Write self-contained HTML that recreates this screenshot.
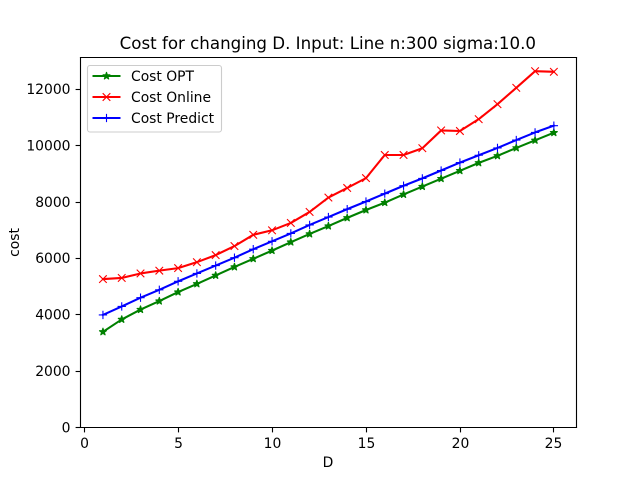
<!DOCTYPE html>
<html>
<head>
<meta charset="utf-8">
<title>Cost for changing D</title>
<style>
html,body{margin:0;padding:0;background:#fff;width:640px;height:480px;overflow:hidden}
svg{display:block}
text{font-family:"DejaVu Sans",sans-serif;fill:#000}
</style>
</head>
<body>
<svg id="chart" width="640" height="480" viewBox="0 0 640 480" xmlns="http://www.w3.org/2000/svg">
  <rect x="0" y="0" width="640" height="480" fill="#fff"/>
  <text x="327.8" y="49" font-size="16.67" text-anchor="middle">Cost for changing D. Input: Line n:300 sigma:10.0</text>
  <text x="328" y="467" font-size="13.89" text-anchor="middle">D</text>
  <text transform="translate(19 242.5) rotate(-90)" font-size="13.89" text-anchor="middle">cost</text>
  <g id="ticks"></g>
  <g id="series"></g>
  <g id="spines" stroke="#000" stroke-width="1.11" fill="none">
    <line x1="80.5" y1="57.5" x2="80.5" y2="427.5" stroke-linecap="square"/>
    <line x1="576.5" y1="57.5" x2="576.5" y2="427.5" stroke-linecap="square"/>
    <line x1="80.5" y1="57.5" x2="576.5" y2="57.5" stroke-linecap="square"/>
    <line x1="80.5" y1="427.5" x2="576.5" y2="427.5" stroke-linecap="square"/>
  </g>
  <g id="legend">
    <rect x="87.5" y="65.5" width="134" height="66.5" rx="2.5" fill="#fff" fill-opacity="0.8" stroke="#ccc" stroke-width="1.11"/>
  </g>
</svg>
<script>
var categories = [1,2,3,4,5,6,7,8,9,10,11,12,13,14,15,16,17,18,19,20,21,22,23,24,25];
var costOpt = [3380,3820,4170,4470,4790,5080,5380,5680,5970,6260,6560,6850,7130,7420,7700,7960,8250,8530,8810,9090,9370,9620,9900,10170,10440];
var costOnline = [5250,5290,5450,5550,5640,5850,6100,6420,6820,6980,7240,7630,8140,8480,8830,9650,9650,9890,10520,10500,10920,11450,12030,12620,12600];
var costPredict = [3980,4280,4590,4870,5170,5450,5730,6010,6310,6590,6870,7170,7450,7730,8000,8280,8560,8820,9100,9380,9640,9900,10180,10450,10690];
var xTicks = [0,5,10,15,20,25];
var yTicks = [0,2000,4000,6000,8000,10000,12000];

var NS = 'http://www.w3.org/2000/svg';
var plot = {left: 80, right: 576, top: 57.6, bottom: 427.2};
var xMin = -0.2, xMax = 26.2, yMin = 0, yMax = 13102;

function xScale(v) { return plot.left + (v - xMin) / (xMax - xMin) * (plot.right - plot.left); }
function yScale(v) { return plot.bottom - (v - yMin) / (yMax - yMin) * (plot.bottom - plot.top); }
function make(tag, attrs, parent) {
  var el = document.createElementNS(NS, tag);
  for (var k in attrs) el.setAttribute(k, attrs[k]);
  parent.appendChild(el);
  return el;
}
function snap(v) { return Math.round(v) + 0.5; }

function drawMarker(kind, cx, cy, color, parent) {
  var el;
  if (kind === 'star') {
    var r = 3.6;
    var pts = [];
    for (var i = 0; i < 10; i++) {
      var rad = i % 2 === 0 ? r : r * 0.381966;
      var a = -Math.PI / 2 + i * Math.PI / 5;
      pts.push((cx + rad * Math.cos(a)).toFixed(2) + ',' + (cy + rad * Math.sin(a)).toFixed(2));
    }
    el = make('polygon', {points: pts.join(' '), fill: color, stroke: color, 'stroke-width': 1.2, 'stroke-linejoin': 'round'}, parent);
  } else if (kind === 'x') {
    var rx = 3.8;
    el = make('path', {d: 'M' + (cx - rx) + ' ' + (cy - rx) + 'L' + (cx + rx) + ' ' + (cy + rx) + 'M' + (cx - rx) + ' ' + (cy + rx) + 'L' + (cx + rx) + ' ' + (cy - rx), fill: 'none', stroke: color, 'stroke-width': 1.1}, parent);
  } else {
    var rp = 4.17;
    el = make('path', {d: 'M' + (cx - rp) + ' ' + cy + 'L' + (cx + rp) + ' ' + cy + 'M' + cx + ' ' + (cy - rp) + 'L' + cx + ' ' + (cy + rp), fill: 'none', stroke: color, 'stroke-width': 1.1}, parent);
  }
  return el;
}

var tickGroup = document.getElementById('ticks');
xTicks.forEach(function (t) {
  var x = snap(xScale(t));
  var line = make('line', {x1: x, y1: 427.5, x2: x, y2: 432.4, stroke: '#000', 'stroke-width': 1.11}, tickGroup);
  
  
  var label = make('text', {x: x, y: 448, 'font-size': 13.89, 'text-anchor': 'middle'}, tickGroup);
  
  
  label.textContent = t;
});
yTicks.forEach(function (t) {
  var y = snap(yScale(t));
  var line = make('line', {x1: 75.6, y1: y, x2: 80.5, y2: y, stroke: '#000', 'stroke-width': 1.11}, tickGroup);
  
  
  var label = make('text', {x: 70.5, y: yScale(t) + 5.3, 'font-size': 13.89, 'text-anchor': 'end'}, tickGroup);
  
  
  label.textContent = t;
});

function drawSeries(values, color, kind, name) {
  var g = make('g', {}, document.getElementById('series'));
  
  
  var pts = categories.map(function (c, i) { return (xScale(c) + 0.4).toFixed(2) + ',' + yScale(values[i]).toFixed(2); });
  var line = make('polyline', {points: pts.join(' '), fill: 'none', stroke: color, 'stroke-width': 2.08, 'stroke-linejoin': 'round', 'stroke-linecap': 'square'}, g);
  
  
  categories.forEach(function (c, i) {
    var m = drawMarker(kind, xScale(c) + 0.4, yScale(values[i]), color, g);
    
    
  });
}
drawSeries(costOpt, '#008000', 'star', 'series-cost-opt');
drawSeries(costOnline, '#ff0000', 'x', 'series-cost-online');
drawSeries(costPredict, '#0000ff', 'plus', 'series-cost-predict');

var legendGroup = document.getElementById('legend');
function drawLegendEntry(label, color, kind, rowY, name) {
  var g = make('g', {}, legendGroup);
  
  
  var line = make('line', {x1: 92.5, y1: rowY, x2: 120.5, y2: rowY, stroke: color, 'stroke-width': 2.08}, g);
  
  
  var m = drawMarker(kind, 106.5, rowY, color, g);
  
  
  var t = make('text', {x: 131, y: rowY + 5, 'font-size': 13.89}, g);
  
  
  t.textContent = label;
}
drawLegendEntry('Cost OPT', '#008000', 'star', 76, 'legend-entry-opt');
drawLegendEntry('Cost Online', '#ff0000', 'x', 97, 'legend-entry-online');
drawLegendEntry('Cost Predict', '#0000ff', 'plus', 118, 'legend-entry-predict');
</script>
</body>
</html>
